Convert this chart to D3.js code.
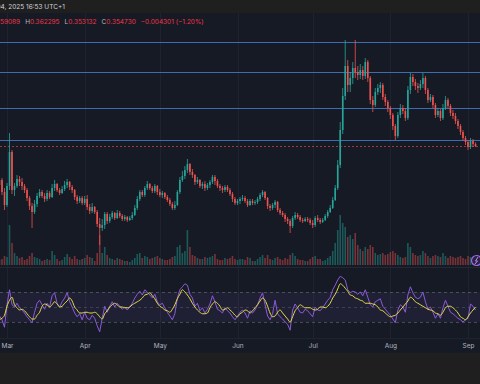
<!DOCTYPE html>
<html>
<head>
<meta charset="utf-8">
<script src="https://cdn.jsdelivr.net/npm/d3@7"></script>
<style>
html, body { margin: 0; padding: 0; background: #1f1f1f; }
svg { display: block; }
</style>
</head>
<body>
<div id="chart"></div>
<script>
var width = 480;
var height = 384;

// daily candles, first one is 2025-02-25
var firstDay = Date.UTC(2025, 1, 25);
var firstOpen = 0.281;
var closes = [
	0.277, 0.287, 0.263, 0.237,
	0.275, 0.343, 0.267, 0.275, 0.289, 0.283, 0.275, 0.267, 0.251, 0.235, 0.223, 0.239, 0.255, 0.263, 0.255, 0.249, 0.261, 0.253, 0.271, 0.279, 0.267, 0.261, 0.269, 0.277, 0.283, 0.273, 0.267, 0.253, 0.245, 0.251, 0.241,
	0.249, 0.233, 0.225, 0.233, 0.223, 0.199, 0.191, 0.197, 0.219, 0.205, 0.213, 0.221, 0.211, 0.221, 0.215, 0.209, 0.213, 0.207, 0.211, 0.217, 0.231, 0.249, 0.263, 0.257, 0.271, 0.279, 0.271, 0.265, 0.275, 0.263,
	0.257, 0.261, 0.253, 0.247, 0.239, 0.231, 0.237, 0.263, 0.287, 0.295, 0.307, 0.319, 0.303, 0.297, 0.283, 0.287, 0.275, 0.279, 0.271, 0.277, 0.283, 0.293, 0.285, 0.275, 0.271, 0.267, 0.273, 0.267, 0.259, 0.249, 0.241,
	0.245, 0.249, 0.251, 0.245, 0.237, 0.245, 0.241, 0.243, 0.249, 0.257, 0.263, 0.251, 0.235, 0.231, 0.237, 0.243, 0.227, 0.221, 0.217, 0.209, 0.205, 0.195, 0.211, 0.217, 0.213, 0.207, 0.205, 0.209, 0.207, 0.201,
	0.197, 0.211, 0.207, 0.203, 0.207, 0.215, 0.223, 0.231, 0.247, 0.271, 0.317, 0.387, 0.455, 0.515, 0.477, 0.491, 0.511, 0.503, 0.497, 0.507, 0.495, 0.523, 0.491, 0.447, 0.437, 0.463, 0.471, 0.477, 0.453, 0.443, 0.431,
	0.417, 0.395, 0.375, 0.417, 0.431, 0.425, 0.411, 0.467, 0.493, 0.483, 0.475, 0.471, 0.479, 0.491, 0.467, 0.447, 0.453, 0.437, 0.417, 0.425, 0.411, 0.431, 0.447, 0.435, 0.421, 0.415, 0.405, 0.395, 0.383, 0.371, 0.363,
	0.353, 0.365, 0.359031, 0.354730
];
var highs = [
	0.287, 0.295, 0.291, 0.271,
	0.281, 0.381, 0.347, 0.281, 0.297, 0.295, 0.291, 0.279, 0.271, 0.255, 0.241, 0.247, 0.261, 0.269, 0.267, 0.261, 0.267, 0.265, 0.279, 0.287, 0.281, 0.271, 0.275, 0.285, 0.289, 0.285, 0.277, 0.269, 0.257, 0.255, 0.255,
	0.255, 0.257, 0.239, 0.241, 0.235, 0.227, 0.211, 0.209, 0.223, 0.223, 0.219, 0.225, 0.223, 0.227, 0.225, 0.219, 0.217, 0.215, 0.215, 0.223, 0.237, 0.255, 0.267, 0.267, 0.275, 0.285, 0.281, 0.275, 0.279, 0.277,
	0.269, 0.265, 0.263, 0.257, 0.251, 0.243, 0.245, 0.267, 0.293, 0.305, 0.315, 0.329, 0.321, 0.309, 0.299, 0.293, 0.289, 0.283, 0.285, 0.281, 0.287, 0.297, 0.297, 0.289, 0.279, 0.275, 0.277, 0.277, 0.271, 0.263, 0.253,
	0.249, 0.253, 0.257, 0.255, 0.249, 0.249, 0.249, 0.247, 0.253, 0.261, 0.267, 0.265, 0.253, 0.239, 0.241, 0.247, 0.245, 0.231, 0.225, 0.221, 0.213, 0.209, 0.215, 0.223, 0.221, 0.217, 0.211, 0.213, 0.213, 0.211,
	0.207, 0.215, 0.217, 0.211, 0.211, 0.219, 0.227, 0.237, 0.253, 0.277, 0.327, 0.403, 0.471, 0.567, 0.527, 0.503, 0.523, 0.567, 0.515, 0.519, 0.515, 0.531, 0.527, 0.495, 0.455, 0.471, 0.479, 0.483, 0.481, 0.459, 0.447,
	0.435, 0.421, 0.399, 0.423, 0.439, 0.437, 0.431, 0.475, 0.501, 0.499, 0.489, 0.481, 0.487, 0.501, 0.495, 0.471, 0.459, 0.457, 0.441, 0.431, 0.429, 0.439, 0.455, 0.451, 0.439, 0.427, 0.421, 0.409, 0.399, 0.387, 0.375,
	0.367, 0.371, 0.369, 0.362295
];
var lows = [
	0.267, 0.271, 0.257, 0.227,
	0.233, 0.267, 0.259, 0.255, 0.271, 0.275, 0.267, 0.261, 0.245, 0.227, 0.191, 0.219, 0.233, 0.251, 0.251, 0.243, 0.245, 0.249, 0.251, 0.265, 0.263, 0.257, 0.259, 0.265, 0.271, 0.267, 0.261, 0.247, 0.239, 0.241, 0.237,
	0.237, 0.227, 0.219, 0.221, 0.219, 0.193, 0.157, 0.185, 0.189, 0.199, 0.201, 0.209, 0.207, 0.209, 0.211, 0.205, 0.205, 0.203, 0.205, 0.207, 0.215, 0.227, 0.245, 0.253, 0.253, 0.267, 0.267, 0.261, 0.261, 0.257,
	0.253, 0.251, 0.249, 0.243, 0.235, 0.227, 0.227, 0.235, 0.259, 0.283, 0.289, 0.301, 0.297, 0.291, 0.277, 0.279, 0.271, 0.269, 0.265, 0.267, 0.271, 0.279, 0.277, 0.271, 0.265, 0.261, 0.263, 0.263, 0.255, 0.243, 0.237,
	0.237, 0.239, 0.245, 0.241, 0.233, 0.235, 0.237, 0.237, 0.239, 0.245, 0.253, 0.247, 0.229, 0.225, 0.227, 0.231, 0.223, 0.217, 0.213, 0.203, 0.199, 0.181, 0.191, 0.207, 0.209, 0.203, 0.201, 0.203, 0.203, 0.197,
	0.191, 0.193, 0.203, 0.199, 0.201, 0.205, 0.211, 0.221, 0.229, 0.245, 0.267, 0.311, 0.379, 0.447, 0.463, 0.463, 0.479, 0.491, 0.487, 0.489, 0.487, 0.489, 0.483, 0.439, 0.423, 0.433, 0.457, 0.461, 0.447, 0.435, 0.423,
	0.409, 0.387, 0.367, 0.371, 0.411, 0.419, 0.405, 0.407, 0.459, 0.475, 0.467, 0.461, 0.467, 0.471, 0.459, 0.441, 0.443, 0.431, 0.411, 0.413, 0.405, 0.407, 0.427, 0.429, 0.415, 0.409, 0.399, 0.389, 0.377, 0.365, 0.357,
	0.347, 0.349, 0.353, 0.353132
];
// volume in millions
var volumes = [
	6, 5, 6, 9,
	8, 40, 22, 12, 9, 7, 8, 5, 6, 9, 12, 8, 7, 6, 4, 5, 6, 5, 14, 10, 6, 4, 5, 8, 11, 8, 6, 9, 6, 5, 6,
	7, 10, 8, 7, 4, 12, 30, 12, 18, 10, 7, 6, 5, 7, 6, 5, 4, 4, 3, 5, 7, 11, 12, 7, 9, 8, 6, 7, 8, 9,
	7, 6, 5, 5, 6, 8, 9, 18, 20, 12, 14, 35, 18, 10, 9, 7, 6, 6, 8, 7, 8, 9, 11, 6, 5, 5, 7, 6, 7, 9, 6,
	5, 6, 6, 5, 8, 7, 4, 4, 6, 8, 10, 7, 10, 6, 5, 7, 8, 6, 5, 7, 6, 10, 12, 9, 6, 5, 5, 4, 4, 6,
	8, 9, 6, 6, 4, 5, 7, 9, 14, 22, 35, 50, 42, 38, 28, 30, 26, 32, 20, 16, 14, 18, 16, 20, 18, 12, 10, 11, 12, 10, 11,
	13, 14, 12, 10, 8, 7, 8, 22, 18, 12, 10, 9, 10, 14, 12, 9, 7, 9, 10, 9, 8, 12, 9, 7, 9, 8, 7, 8, 9, 7, 6,
	9, 8, 6, 4
];
var rsiValues = [
	42, 38, 33, 23,
	53, 73, 53, 50, 55, 49, 46, 42, 37, 33, 29, 43, 55, 59, 53, 47, 55, 50, 65, 69, 55, 50, 57, 62, 69, 57, 50, 42, 37, 41, 33,
	43, 35, 33, 39, 35, 25, 17, 35, 51, 43, 51, 57, 50, 55, 51, 47, 50, 46, 50, 55, 62, 67, 71, 66, 73, 70, 66, 62, 67, 57,
	53, 55, 49, 43, 38, 33, 41, 62, 73, 77, 81, 79, 67, 62, 51, 55, 45, 49, 42, 47, 54, 65, 57, 47, 45, 42, 49, 45, 42, 37, 33,
	38, 43, 46, 42, 35, 45, 42, 46, 53, 62, 69, 53, 38, 33, 41, 59, 41, 37, 34, 30, 27, 19, 46, 54, 49, 43, 42, 47, 45, 41,
	37, 50, 46, 45, 49, 54, 59, 63, 73, 79, 86, 91, 89, 86, 73, 69, 71, 70, 67, 70, 65, 73, 63, 53, 50, 57, 59, 61, 51, 47, 43,
	39, 34, 29, 46, 53, 50, 43, 66, 77, 69, 63, 61, 63, 70, 57, 47, 50, 43, 35, 41, 35, 49, 59, 51, 43, 41, 38, 35, 33, 30, 33,
	35, 54, 51, 46
];
var rsiMaValues = [
	31, 33, 35, 39,
	51, 59, 63, 53, 49, 46, 47, 45, 41, 37, 34, 34, 39, 43, 51, 54, 53, 50, 53, 57, 54, 50, 51, 55, 58, 62, 58, 50, 46, 42, 42,
	43, 43, 42, 42, 43, 41, 37, 34, 41, 45, 50, 53, 55, 53, 50, 50, 49, 49, 50, 53, 55, 57, 59, 62, 66, 67, 69, 65, 61, 55,
	51, 49, 46, 45, 43, 47, 53, 61, 67, 73, 70, 66, 61, 55, 50, 46, 43, 41, 41, 42, 49, 54, 57, 55, 51, 46, 47, 49, 46, 43, 39,
	37, 41, 43, 46, 45, 42, 45, 49, 53, 58, 62, 59, 51, 42, 37, 38, 43, 46, 42, 38, 34, 30, 37, 45, 49, 53, 51, 49, 49, 49,
	47, 46, 47, 50, 50, 49, 51, 55, 62, 67, 74, 81, 79, 75, 71, 66, 65, 62, 61, 59, 58, 55, 55, 55, 54, 53, 50, 46, 45, 42, 39,
	37, 38, 39, 42, 46, 50, 54, 58, 63, 61, 57, 55, 53, 51, 49, 47, 46, 45, 42, 41, 39, 43, 49, 51, 51, 49, 46, 42, 37, 35, 33,
	37, 42, 46, 50
];
var levels = [0.563, 0.503, 0.431, 0.367];
var lastPrice = 0.354730;
var monthStarts = [2, 3, 4, 5, 6, 7, 8];
var monthLabels = ['Mar', 'Apr', 'May', 'Jun', 'Jul', 'Aug', 'Sep'];
var headerDate = 'Sep 04, 2025 16:53 UTC+1';
var ohlcItems = [
	{label: 'O', value: '0.359089'},
	{label: 'H', value: '0.362295'},
	{label: 'L', value: '0.353132'},
	{label: 'C', value: '0.354730'},
	{label: '', value: '\u22120.004301 (\u22121.20%)'}
];

var up = '#26a69a';
var down = '#ef5350';
var font = 'Inter, Roboto, "Noto Sans", sans-serif';

var candles = closes.map(function(c, i){
	return {
		date: new Date(firstDay + i * 864e5),
		open: i ? closes[i - 1] : firstOpen,
		high: highs[i], low: lows[i], close: c,
		volume: volumes[i], rsi: rsiValues[i], rsiMa: rsiMaValues[i]
	};
});

var x = d3.scaleUtc().domain([new Date(Date.UTC(2025, 2, 1)), new Date(Date.UTC(2025, 8, 1))]).range([7, 468]);
var y = d3.scaleLinear().domain([0.147, 0.647]).range([250, 0]);
var yVol = d3.scaleLinear().domain([0, 100]).range([265, 165]);
var yRsi = d3.scaleLinear().domain([30, 70]).range([322, 292]);

var svg = d3.select('#chart').append('svg').attr('width', width).attr('height', height);

// backgrounds
svg.append('rect').attr('width', width).attr('height', height).style('fill', '#1f1f1f');
svg.append('rect').attr('x', 0).attr('y', 13).attr('width', width).attr('height', 340).style('fill', '#161a25');

svg.append('clipPath').attr('id', 'mainClip').append('rect').attr('x', 0).attr('y', 13).attr('width', width).attr('height', 254);
svg.append('clipPath').attr('id', 'rsiClip').append('rect').attr('x', 0).attr('y', 268).attr('width', width).attr('height', 70);

var monthDates = monthStarts.map(function(m){ return new Date(Date.UTC(2025, m, 1)); });

// vertical grid
svg.append('g').selectAll('line').data(monthDates).enter().append('line')
	.attr('x1', function(d){ return Math.round(x(d)) + 0.5; })
	.attr('x2', function(d){ return Math.round(x(d)) + 0.5; })
	.attr('y1', 13).attr('y2', 338)
	.style('stroke', '#1f2330').style('stroke-width', 1);

// pane borders
svg.append('line').attr('x1', 0).attr('x2', width).attr('y1', 267.5).attr('y2', 267.5).style('stroke', '#242835');
svg.append('line').attr('x1', 0).attr('x2', width).attr('y1', 338.5).attr('y2', 338.5).style('stroke', '#1f2330');

var main = svg.append('g').attr('clip-path', 'url(#mainClip)');

// volume
main.append('g').selectAll('rect').data(candles).enter().append('rect')
	.attr('x', function(d){ return x(d.date) - 0.8; })
	.attr('width', 1.6)
	.attr('y', function(d){ return yVol(d.volume); })
	.attr('height', function(d){ return yVol(0) - yVol(d.volume); })
	.style('fill', function(d){ return d.close >= d.open ? up : down; })
	.style('opacity', 0.45);

// horizontal levels
main.append('g').selectAll('line').data(levels).enter().append('line')
	.attr('x1', 0).attr('x2', width)
	.attr('y1', function(d){ return Math.round(y(d)) + 0.5; })
	.attr('y2', function(d){ return Math.round(y(d)) + 0.5; })
	.style('stroke', '#3d6cb0').style('stroke-width', 1);

// last price line
main.append('line').attr('x1', 0).attr('x2', width)
	.attr('y1', Math.round(y(lastPrice)) + 0.5).attr('y2', Math.round(y(lastPrice)) + 0.5)
	.style('stroke', down).style('stroke-width', 1).style('stroke-dasharray', '2,2').style('opacity', 0.6);

// candles
var candle = main.append('g').selectAll('g').data(candles).enter().append('g');
candle.append('line')
	.attr('x1', function(d){ return x(d.date); })
	.attr('x2', function(d){ return x(d.date); })
	.attr('y1', function(d){ return y(d.high); })
	.attr('y2', function(d){ return y(d.low); })
	.style('stroke', function(d){ return d.close >= d.open ? up : down; })
	.style('stroke-width', 0.8);
candle.append('rect')
	.attr('x', function(d){ return x(d.date) - 0.8; })
	.attr('width', 1.6)
	.attr('y', function(d){ return y(Math.max(d.open, d.close)); })
	.attr('height', function(d){ return Math.max(0.8, Math.abs(y(d.open) - y(d.close))); })
	.style('fill', function(d){ return d.close >= d.open ? up : down; });

// little purple badge bottom right of main pane
svg.append('circle').attr('cx', 476.5).attr('cy', 260.5).attr('r', 5)
	.style('fill', '#2b2245').style('stroke', '#9b6ae0').style('stroke-width', 1.2);
svg.append('path').attr('d', 'M478,257 L475.5,261 L477.5,261 L475,264')
	.style('fill', 'none').style('stroke', '#b58cf0').style('stroke-width', 1);

// RSI pane
var rsiPane = svg.append('g').attr('clip-path', 'url(#rsiClip)');
rsiPane.append('rect').attr('x', 0).attr('width', width)
	.attr('y', yRsi(70)).attr('height', yRsi(30) - yRsi(70))
	.style('fill', '#7e57c2').style('opacity', 0.1);
rsiPane.append('g').selectAll('line').data([70, 50, 30]).enter().append('line')
	.attr('x1', 0).attr('x2', width)
	.attr('y1', function(d){ return Math.round(yRsi(d)) + 0.5; })
	.attr('y2', function(d){ return Math.round(yRsi(d)) + 0.5; })
	.style('stroke', '#787b86').style('stroke-opacity', function(d){ return d === 50 ? 0.35 : 0.5; })
	.style('stroke-dasharray', '3,3');

rsiPane.append('path').datum(candles)
	.attr('d', d3.line().x(function(d){ return x(d.date); }).y(function(d){ return yRsi(d.rsi); }))
	.style('fill', 'none').style('stroke', '#8a5bd6').style('stroke-width', 1);
rsiPane.append('path').datum(candles)
	.attr('d', d3.line().curve(d3.curveMonotoneX).x(function(d){ return x(d.date); }).y(function(d){ return yRsi(d.rsiMa); }))
	.style('fill', 'none').style('stroke', '#e3dc47').style('stroke-width', 1);

// time axis
var axis = svg.append('g').attr('transform', 'translate(0,339)')
	.call(d3.axisBottom(x).tickValues(monthDates).tickSize(0).tickPadding(0)
		.tickFormat(function(d, i){ return monthLabels[i]; }));
axis.select('.domain').remove();
axis.selectAll('text').attr('dy', '9.4px').style('fill', '#b2b5be').style('font-size', '6.5px').style('font-family', font);

// header: date, partly cut at left edge
var hdr = svg.append('text').attr('y', 9.3).style('font-size', '6.5px').style('font-family', font).style('fill', '#d1d4dc');
var probe = svg.append('text').style('font-size', '6.5px').style('font-family', font).text(headerDate.slice(0, 5));
var cut = probe.node().getComputedTextLength();
probe.remove();
hdr.attr('x', -cut + 0.5).text(headerDate);

// OHLC legend
var legend = svg.append('g');
var xPos = 0;
var shift = 0;
ohlcItems.forEach(function(item, i){
	if(item.label){
		var lab = legend.append('text').attr('x', xPos).attr('y', 24.3)
			.style('font-size', '6.5px').style('font-family', font).style('fill', '#b2b5be').text(item.label);
		xPos += lab.node().getComputedTextLength();
	}
	var val = legend.append('text').attr('x', xPos).attr('y', 24.3)
		.style('font-size', '6.5px').style('font-family', font).style('fill', '#f23645').text(item.value);
	if(i === 0){
		var p = legend.append('text').style('font-size', '6.5px').style('font-family', font).text(item.value.slice(0, 3));
		shift = xPos + p.node().getComputedTextLength();
		p.remove();
	}
	xPos += val.node().getComputedTextLength() + 5;
});
legend.attr('transform', 'translate(' + (-shift) + ',0)');
</script>
</body>
</html>
